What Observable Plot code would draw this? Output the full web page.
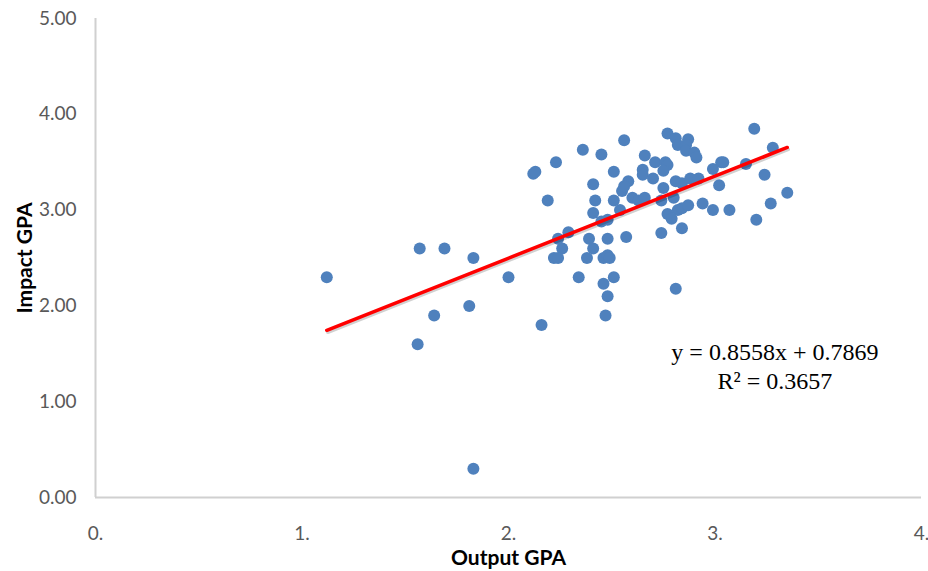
<!DOCTYPE html>
<html>
<head>
<meta charset="utf-8">
<script src="https://cdn.jsdelivr.net/npm/d3@7"></script>
<script src="https://cdn.jsdelivr.net/npm/@observablehq/plot@0.6"></script>
<style>
  html, body { margin: 0; padding: 0; background: #ffffff; }
  #chart { width: 928px; height: 571px; }
</style>
</head>
<body>
<div id="chart"></div>
<script>
// Output GPA (x) and Impact GPA (y)
const outputGPA = [
  1.12, 1.57, 1.69, 1.83, 2.00, 1.64, 1.81, 1.56, 1.83, 2.16,
  2.12, 2.13, 2.23, 2.19, 2.36, 2.45, 2.56, 2.51, 2.41, 2.42,
  2.41, 2.45, 2.48, 2.51, 2.54, 2.55, 2.58, 2.56, 2.60, 2.63,
  2.66, 2.66, 2.71, 2.65, 2.65, 2.70, 2.75, 2.76, 2.77, 2.75,
  2.77, 2.81, 2.82, 2.87, 2.86, 2.86, 2.90, 2.91, 2.81, 2.84,
  2.88, 2.92, 2.74, 2.80, 2.82, 2.77, 2.79, 2.84, 2.87, 2.74,
  2.84, 2.81, 2.94, 2.99, 3.07, 3.20, 3.27, 3.35, 3.24, 3.15,
  3.03, 3.04, 2.99, 3.02, 3.28, 3.19, 2.34, 2.46, 2.51, 2.48,
  2.47, 2.24, 2.29, 2.26, 2.22, 2.24, 2.39, 2.41, 2.38, 2.48,
  2.57, 2.46, 2.48, 2.49
];
const impactGPA = [
  2.30, 2.60, 2.60, 2.50, 2.30, 1.90, 2.00, 1.60, 0.30, 1.80,
  3.38, 3.40, 3.50, 3.10, 3.63, 3.58, 3.73, 3.40, 3.27, 3.10,
  2.97, 2.88, 2.90, 3.10, 3.00, 3.20, 3.30, 3.25, 3.13, 3.10,
  3.13, 3.57, 3.50, 3.42, 3.37, 3.33, 3.23, 3.50, 3.47, 3.41,
  3.80, 3.75, 3.68, 3.74, 3.68, 3.62, 3.60, 3.55, 3.30, 3.28,
  3.33, 3.33, 3.10, 3.13, 3.00, 2.96, 2.91, 3.02, 3.05, 2.76,
  2.81, 2.18, 3.07, 3.00, 3.00, 2.90, 3.07, 3.18, 3.37, 3.48,
  3.50, 3.50, 3.43, 3.26, 3.65, 3.85, 2.30, 2.23, 2.30, 2.10,
  1.90, 2.70, 2.77, 2.60, 2.50, 2.50, 2.70, 2.60, 2.50, 2.70,
  2.72, 2.50, 2.53, 2.50
];

// Trendline as printed on the chart
const slope = 0.8558;
const intercept = 0.7869;
const equationLines = ["y = 0.8558x + 0.7869", "R\u00B2 = 0.3657"];
const equationX = [3.29, 3.29];
const equationY = [1.52, 1.21];

// Axis ticks and titles
const xTicks = [0, 1, 2, 3, 4];
const yTicks = [0, 1, 2, 3, 4, 5];
const xTitle = "Output GPA";
const yTitle = "Impact GPA";

const points = outputGPA.map((x, i) => ({x, y: impactGPA[i]}));
const [xMin, xMax] = d3.extent(outputGPA);
const trend = [xMin, xMax].map(x => ({x, y: slope * x + intercept}));
const equation = equationLines.map((t, i) => ({t, x: equationX[i], y: equationY[i]}));

const tickColor = "#595959";
const axisColor = "#D0D0D0";

const chart = Plot.plot({
  width: 928,
  height: 571,
  marginLeft: 95,
  marginRight: 7,
  marginTop: 18,
  marginBottom: 74,
  style: {fontFamily: "Lato, 'Open Sans', sans-serif", background: "#ffffff", overflow: "visible"},
  x: {domain: [0, 4]},
  y: {domain: [0, 5]},
  marks: [
    Plot.axisX({ticks: xTicks, tickFormat: d => d + ".", tickSize: 0, tickPadding: 29,
      fontSize: 19, fill: tickColor, label: null}),
    Plot.axisY({ticks: yTicks, tickFormat: d => d.toFixed(2), tickSize: 0, tickPadding: 19,
      fontSize: 19, fill: tickColor, label: null}),
    Plot.ruleX([0], {stroke: axisColor, strokeWidth: 2}),
    Plot.ruleY([0], {stroke: axisColor, strokeWidth: 2}),
    Plot.dot(points, {x: "x", y: "y", r: 6, fill: "#4F81BD", stroke: "none"}),
    Plot.line(trend, {x: "x", y: "y", stroke: "#000000", strokeOpacity: 0.18, strokeWidth: 3.5, dy: 2, dx: 1}),
    Plot.line(trend, {x: "x", y: "y", stroke: "#FF0000", strokeWidth: 3.5}),
    Plot.text(equation, {x: "x", y: "y", text: "t", fontSize: 24, fill: "#000000",
      fontFamily: "'Liberation Serif', 'DejaVu Serif', serif", textAnchor: "middle"}),
    Plot.text([yTitle], {frameAnchor: "left", textAnchor: "middle", lineAnchor: "middle", dx: -70, rotate: -90, fontSize: 21,
      fontWeight: "bold", fill: "#000000"}),
    Plot.text([xTitle], {frameAnchor: "bottom", textAnchor: "middle", lineAnchor: "middle", dy: 61, fontSize: 21,
      fontWeight: "bold", fill: "#000000"})
  ]
});
document.getElementById("chart").appendChild(chart);
</script>
</body>
</html>
